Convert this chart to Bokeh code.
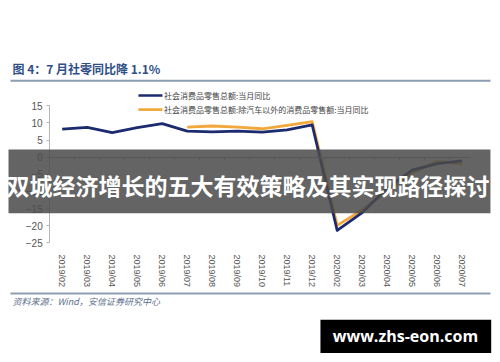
from bokeh.plotting import figure
from bokeh.models import (Range1d, FixedTicker, BoxAnnotation, Label, ColumnDataSource,
                          LinearAxis)
from bokeh.embed import file_html
from bokeh.resources import INLINE

categories = ["2019/02", "2019/03", "2019/04", "2019/05", "2019/06", "2019/07",
              "2019/08", "2019/09", "2019/10", "2019/11", "2019/12", "2020/02",
              "2020/03", "2020/04", "2020/05", "2020/06", "2020/07"]
total_yoy = [8.2, 8.7, 7.2, 8.6, 9.8, 7.6, 7.4, 7.6, 7.3, 8.0, 9.4,
             -21.4, -16.2, -9.0, -3.8, -1.9, -1.1]
ex_auto_yoy = [None, None, None, None, None, 8.8, 9.1, 8.8, 8.3, 9.3, 10.4,
               -19.9, -15.4, -10.0, -4.6, -1.2, -2.0]
y_ticks = [-25, -20, -15, -10, -5, 0, 5, 10, 15]

title_text = "图 4：7 月社零同比降 1.1%"
legend_total = "社会消费品零售总额:当月同比"
legend_ex_auto = "社会消费品零售总额:除汽车以外的消费品零售额:当月同比"
source_text = "资料来源：Wind，安信证券研究中心"
banner_text = "双城经济增长的五大有效策略及其实现路径探讨"
site_text = "www.zhs-eon.com"

BLUE = "#1c2a6e"
ORANGE = "#f2a83a"
RULE = "#8a9fb3"
AXIS = "#b5b5b5"

n = len(categories)
idx = list(range(n))

p = figure(width=492, height=354, output_backend="svg", toolbar_location=None,
           x_range=Range1d(-2.468, 17.212), y_range=Range1d(-57.61, 45.75),
           min_border=0, x_axis_type=None, y_axis_type=None)
p.outline_line_color = None
p.background_fill_color = "white"
p.border_fill_color = "white"

# y axis, fixed at the left edge of the category area
ya = LinearAxis(fixed_location=-0.5, ticker=FixedTicker(ticks=y_ticks), bounds=(-25, 15))
ya.axis_line_color = AXIS
ya.major_tick_line_color = AXIS
ya.major_tick_out = 3
ya.major_tick_in = 0
ya.minor_tick_line_color = None
ya.major_label_standoff = 4
ya.major_label_text_font = "Liberation Sans"
ya.major_label_text_font_size = "10px"
ya.major_label_text_color = "#555555"
p.add_layout(ya, "left")

# category axis line at zero with boundary ticks
za = LinearAxis(fixed_location=0, ticker=FixedTicker(ticks=[i + 0.5 for i in range(n - 1)]),
                bounds=(-0.5, n - 0.65))
za.axis_line_color = "#a8a8a8"
za.major_tick_line_color = "#a8a8a8"
za.major_tick_out = 3
za.major_tick_in = 0
za.minor_tick_line_color = None
za.major_label_text_font_size = "0px"
za.major_label_text_color = None
p.add_layout(za, "below")

# category labels at the bottom
xa = LinearAxis(fixed_location=-26.07, ticker=FixedTicker(ticks=idx))
xa.major_label_overrides = {i: c for i, c in enumerate(categories)}
xa.major_label_orientation = "vertical"
xa.axis_line_color = None
xa.major_tick_line_color = None
xa.minor_tick_line_color = None
xa.major_label_standoff = 2
xa.major_label_text_font = "Liberation Sans"
xa.major_label_text_font_size = "9px"
xa.major_label_text_color = "#555555"
p.add_layout(xa, "below")

# series
src = ColumnDataSource(dict(x=idx, total=total_yoy,
                            ex=[float("nan") if v is None else v for v in ex_auto_yoy]))
p.line("x", "ex", source=src, line_color=ORANGE, line_width=2.8, line_join="round")
p.line("x", "total", source=src, line_color=BLUE, line_width=2.8, line_join="round")

# legend (drawn)
p.segment(x0=[3.05], x1=[4.01], y0=[18.0], y1=[18.0], line_color=BLUE, line_width=2.6)
p.segment(x0=[3.05], x1=[4.01], y0=[13.9], y1=[13.9], line_color=ORANGE, line_width=2.6)
for yy, txt in [(18.0, legend_total), (13.9, legend_ex_auto)]:
    p.add_layout(Label(x=4.07, y=yy, text=txt, text_font="Noto Sans CJK SC",
                       text_font_size="8px", text_color="#444444",
                       text_baseline="middle", text_align="left"))

# title and rules
p.add_layout(Label(x=-1.99, y=25.9, text=title_text, text_font="Noto Sans CJK SC",
                   text_font_style="bold", text_font_size="12px", text_color="#2f4f86",
                   text_baseline="middle", text_align="left"))
p.add_layout(BoxAnnotation(left=-2.07, right=17.13, top=22.6, bottom=22.0,
                           fill_color=RULE, fill_alpha=1, line_color=None))
p.add_layout(BoxAnnotation(left=-2.07, right=17.13, top=-39.5, bottom=-40.1,
                           fill_color=RULE, fill_alpha=1, line_color=None))
p.add_layout(Label(x=-1.99, y=-42.1, text=source_text, text_font="Noto Sans CJK SC",
                   text_font_style="italic", text_font_size="9px", text_color="#5b6f8c",
                   text_baseline="middle", text_align="left"))

# banner overlay
p.add_layout(BoxAnnotation(left=-2.148, right=17.13, top=2.27, bottom=-16.4,
                           fill_color="#4a4a4a", fill_alpha=0.86, line_color=None,
                           level="overlay"))
p.add_layout(Label(x=7.43, y=-8.2, text=banner_text, text_font="Noto Sans CJK SC",
                   text_font_style="bold", text_font_size="23px", text_color="white",
                   text_baseline="middle", text_align="center", level="overlay"))

# site box
p.add_layout(BoxAnnotation(left=10.33, right=17.16, top=-47.47, bottom=-57.2,
                           fill_color="black", fill_alpha=1, line_color=None))
p.add_layout(Label(x=13.73, y=-52.35, text=site_text, text_font="Open Sans",
                   text_font_style="bold", text_font_size="16px", text_color="white",
                   text_baseline="middle", text_align="center"))

open("out.html", "w").write(file_html(p, INLINE))
